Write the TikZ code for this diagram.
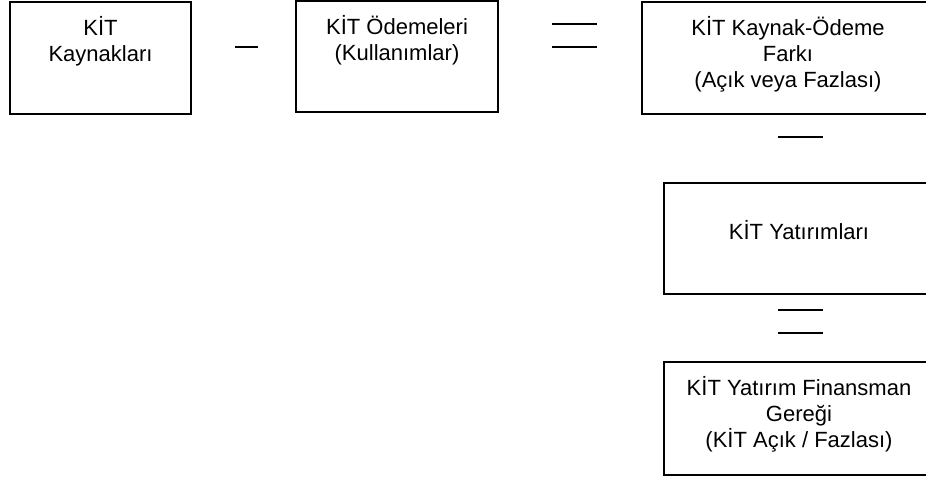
\documentclass[tikz,border=0pt]{standalone}
\usepackage{fontspec}
\setmainfont{Liberation Sans}
\begin{document}
\begin{tikzpicture}[x=1pt,y=-1pt,
  box/.style={draw, line width=1.6pt, rectangle, inner sep=0pt, outer sep=0pt, anchor=north west},
  boxtext/.style={font=\fontsize{22}{26.2}\selectfont, align=center, inner sep=0pt, anchor=north},
  opline/.style={line width=1.4pt}]
\useasboundingbox (0,0) rectangle (926,478);

% boxes of the balance identity
\node[box, minimum width=181pt, minimum height=112pt] (b1) at (10,2) {};
\node[box, minimum width=202pt, minimum height=111pt] (b2) at (296,1) {};
\node[box, minimum width=292pt, minimum height=112pt] (b3) at (642,2) {};
\node[box, minimum width=270pt, minimum height=111pt] (b4) at (664,183) {};
\node[box, minimum width=270pt, minimum height=113pt] (b5) at (664,362) {};

% texts, set from the top of each box
\node[boxtext] (t1) at ([yshift=-14pt]b1.north) {KİT\\Kaynakları};
\node[boxtext] (t2) at ([yshift=-14pt]b2.north) {KİT Ödemeleri\\(Kullanımlar)};
\node[boxtext] (t3) at ([yshift=-14pt]b3.north) {KİT Kaynak-Ödeme\\Farkı\\(Açık veya Fazlası)};
\node[boxtext, anchor=base] (t4) at ([yshift=-1.5pt]b4.center) {KİT Yatırımları};
\node[boxtext] (t5) at ([yshift=-14pt]b5.north) {KİT Yatırım Finansman\\Gereği\\(KİT Açık / Fazlası)};

% minus and equals signs between the boxes
\coordinate (m1a) at (235,47); \coordinate (m1b) at (258,47);
\draw[opline] (m1a) -- (m1b);
\coordinate (e1a) at (552,24); \coordinate (e1b) at (597,24);
\coordinate (e1c) at (552,47); \coordinate (e1d) at (597,47);
\draw[opline] (e1a) -- (e1b);
\draw[opline] (e1c) -- (e1d);
\coordinate (m2a) at (778,137); \coordinate (m2b) at (823,137);
\draw[opline] (m2a) -- (m2b);
\coordinate (e2a) at (778,310); \coordinate (e2b) at (823,310);
\coordinate (e2c) at (778,333); \coordinate (e2d) at (823,333);
\draw[opline] (e2a) -- (e2b);
\draw[opline] (e2c) -- (e2d);
\end{tikzpicture}
\end{document}
